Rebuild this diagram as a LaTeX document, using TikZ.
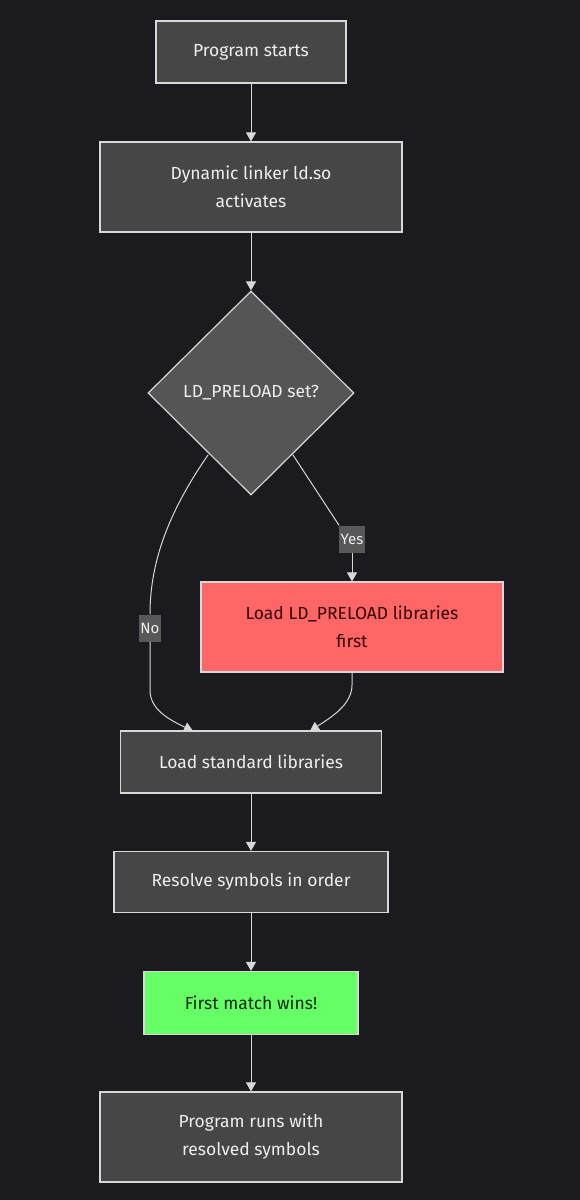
\documentclass[tikz,border=0pt]{standalone}
\usepackage{fontspec}
\setmainfont{Fira Sans}
\usetikzlibrary{shapes.geometric,arrows.meta}
\definecolor{bg}{RGB}{27,27,31}
\definecolor{nodefill}{RGB}{70,70,70}
\definecolor{diafill}{RGB}{85,85,85}
\definecolor{edgecol}{RGB}{215,215,215}
\definecolor{txt}{RGB}{238,238,238}
\definecolor{redfill}{RGB}{255,102,102}
\definecolor{greenfill}{RGB}{102,255,102}
\definecolor{lblfill}{RGB}{88,88,88}
\tikzset{
  box/.style={draw=edgecol, line width=1.2pt, fill=nodefill, text=txt, inner sep=0pt,
    align=center, font=\fontsize{17.5}{28}\selectfont},
  dia/.style={diamond, draw=edgecol, line width=1.2pt, fill=diafill, text=txt, inner sep=0pt,
    font=\fontsize{17.5}{28}\selectfont},
  lbl/.style={fill=lblfill, text=txt, inner xsep=1.5pt, inner ysep=0pt, minimum height=27pt,
    font=\fontsize{15}{18}\selectfont},
  conn/.style={draw=edgecol, line width=1pt, -{Triangle[length=9pt,width=10pt]}},
}
\begin{document}
\begin{tikzpicture}[x=1pt,y=-1pt]
\fill[bg] (0,0) rectangle (580,1200);
\useasboundingbox (0,0) rectangle (580,1200);
\node[box, minimum width=190pt, minimum height=62pt] (n1) at (251,52) {Program starts};
\node[box, minimum width=302pt, minimum height=90pt] (n2) at (251,187) {Dynamic linker ld.so\\activates};
\node[dia, minimum width=206pt, minimum height=204pt] (d) at (251,393) {LD\_PRELOAD set?};
\node[box, fill=redfill, text={rgb,255:red,51;green,0;blue,0}, minimum width=302pt, minimum height=90pt] (r) at (352,627) {Load LD\_PRELOAD libraries\\first};
\node[box, minimum width=261pt, minimum height=62pt] (s) at (251,762) {Load standard libraries};
\node[box, minimum width=274pt, minimum height=61pt] (v) at (251,882) {Resolve symbols in order};
\node[box, fill=greenfill, text={rgb,255:red,0;green,40;blue,0}, minimum width=214pt, minimum height=63pt] (g) at (251,1003) {First match wins!};
\node[box, minimum width=302pt, minimum height=90pt] (e) at (251,1137) {Program runs with\\resolved symbols};

\draw[conn] (n1.south) -- (n2.north);
\draw[conn] (n2.south) -- (d.north);
\coordinate (noA) at (208,455);
\coordinate (yesA) at (293,455);
\coordinate (sL) at (193,731);
\coordinate (sR) at (310,731);
\node[lbl] (no) at (150,628) {No};
\node[lbl] (yes) at (352,539) {Yes};
\draw[draw=edgecol, line width=1pt] (noA) .. controls (170,510) and (150,560) .. (no.north);
\draw[conn] (no.south) -- (150,690) .. controls (150,710) and (170,720) .. (sL);
\draw[draw=edgecol, line width=1pt] (yesA) -- (yes.north west);
\draw[conn] (yes.south) -- (r.north);
\draw[conn] (r.south) -- (352,685) .. controls (352,705) and (330,718) .. (sR);
\draw[conn] (s.south) -- (v.north);
\draw[conn] (v.south) -- (g.north);
\draw[conn] (g.south) -- (e.north);
\end{tikzpicture}
\end{document}
